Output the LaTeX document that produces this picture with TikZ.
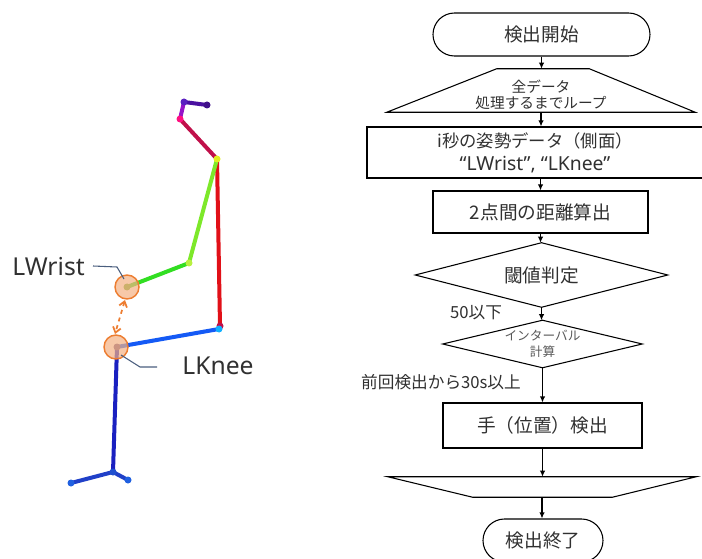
\documentclass[tikz,border=0pt]{standalone}
\usepackage{fontspec}
\setmainfont{Noto Sans CJK JP}
\newfontfamily\latinfont{Noto Sans}
\usetikzlibrary{arrows.meta,shapes.geometric,shapes.misc,calc}

\newdimen\pxu \pxu=0.75pt

\definecolor{txt}{HTML}{303030}
\definecolor{leader}{HTML}{4A5E7E}
\definecolor{peach}{HTML}{F4B183}
\definecolor{orangeline}{HTML}{ED7D31}

\tikzset{
  flow/.style={draw=black, line width=0.8pt, text=txt, inner sep=0pt, align=center},
  term/.style={flow, rounded rectangle, font=\fontsize{14pt}{17pt}\selectfont},
  proc/.style={flow, rectangle, font=\fontsize{14pt}{17pt}\selectfont},
  frame/.style={inner sep=0pt, text=txt, align=center, font=\fontsize{14pt}{17pt}\selectfont},
  outline/.style={draw=black, line width=0.8pt},
  edge/.style={draw=black, line width=0.8pt, -{Latex[length=4.5pt,width=4pt]}},
  bone/.style={line width=3pt, line cap=round},
  joint/.style={circle, inner sep=0pt, minimum size=7\pxu},
  hotspot/.style={circle, draw=orangeline, line width=1.1pt, fill=peach, fill opacity=0.7, minimum size=24\pxu, inner sep=0pt},
  bodylabel/.style={font=\latinfont\fontsize{18.5pt}{22pt}\selectfont, text=txt, inner sep=0pt},
  note/.style={text=txt, inner sep=0pt, font=\fontsize{12.5pt}{15pt}\selectfont}
}

\begin{document}
\begin{tikzpicture}[x=0.75pt, y=-0.75pt]
\useasboundingbox (0,0) rectangle (702,559);

% ---------- skeleton ----------
\coordinate (hA) at (184,102);
\coordinate (hB) at (207,105);
\coordinate (nose) at (180,119);
\coordinate (neck) at (217,159);
\coordinate (elbow) at (189,263);
\coordinate (wrist) at (127,287);
\coordinate (hip) at (220,326);
\coordinate (hipB) at (219,329);
\coordinate (knee) at (117,347);
\coordinate (ankle) at (113,472);
\coordinate (toeL) at (71,483);
\coordinate (toeR) at (128,480);

\draw[bone, color={rgb,255:red,74;green,16;blue,160}] (hA) -- (hB);
\draw[bone, color={rgb,255:red,150;green,20;blue,200}] (hA) -- (nose);
\draw[bone, color={rgb,255:red,192;green,16;blue,74}] (nose) -- (neck);
\draw[bone, color={rgb,255:red,225;green,16;blue,24}] (neck) -- (hip);
\draw[bone, color={rgb,255:red,125;green,232;blue,42}] (neck) -- (elbow);
\draw[bone, color={rgb,255:red,50;green,222;blue,34}] (elbow) -- (wrist);
\draw[bone, color={rgb,255:red,20;green,90;blue,245}] (hipB) -- (knee);
\draw[bone, color={rgb,255:red,26;green,32;blue,192}] (knee) -- (ankle);
\draw[bone, color={rgb,255:red,32;green,64;blue,200}] (ankle) -- (toeL);
\draw[bone, color={rgb,255:red,32;green,64;blue,200}] (ankle) -- (toeR);

\node[joint, fill={rgb,255:red,90;green,32;blue,192}] (jhA) at (hA) {};
\node[joint, fill={rgb,255:red,64;green,16;blue,138}] (jhB) at (hB) {};
\node[joint, fill={rgb,255:red,255;green,16;blue,128}] (jnose) at (nose) {};
\node[joint, fill={rgb,255:red,224;green,240;blue,32}] (jneck) at (neck) {};
\node[joint, fill={rgb,255:red,184;green,240;blue,64}] (jelbow) at (elbow) {};
\node[joint, fill={rgb,255:red,112;green,176;blue,48}] (jwrist) at (wrist) {};
\node[joint, fill={rgb,255:red,192;green,16;blue,74}] (jhip) at (hip) {};
\node[joint, fill={rgb,255:red,16;green,176;blue,255}] (jhipB) at (hipB) {};
\node[joint, fill={rgb,255:red,112;green,80;blue,128}] (jknee) at (knee) {};
\node[joint, fill={rgb,255:red,32;green,80;blue,208}] (jankle) at (ankle) {};
\node[joint, fill={rgb,255:red,32;green,96;blue,224}] (jtoeL) at (toeL) {};
\node[joint, fill={rgb,255:red,32;green,96;blue,224}] (jtoeR) at (toeR) {};

% highlighted key points
\node[hotspot] (cw) at (127,287) {};
\node[hotspot] (ck) at (116,347) {};
\coordinate (dw) at (125,300);
\coordinate (dk) at (115,334);
\draw[orangeline, line width=1.3pt, dashed, {Straight Barb[length=4pt,width=6pt]}-{Straight Barb[length=4pt,width=6pt]}] (dw) -- (dk);

% labels with leader lines
\node[bodylabel] (lw) at (48.5,267) {LWrist};
\node[bodylabel] (lk) at (218,366) {LKnee};
\coordinate (lwA) at (93,266);
\coordinate (lwB) at (117,267);
\coordinate (lwC) at (124,279);
\draw[leader, line width=0.8pt] (lwA) -- (lwB) -- (lwC);
\coordinate (lkA) at (121,355);
\coordinate (lkB) at (140,367);
\coordinate (lkC) at (157,367);
\draw[leader, line width=0.8pt] (lkA) -- (lkB) -- (lkC);

% ---------- flowchart ----------
\node[term, minimum width=217\pxu, minimum height=43\pxu] (start) at (541.5,34.5) {検出開始};

% loop start (trapezoid)
\node[frame, minimum width=308\pxu, minimum height=43\pxu] (loopA) at (541,90.5) {};
\draw[outline] (loopA.south west) -- (loopA.south east) -- ($(loopA.north east)+(-106,0)$) -- ($(loopA.north west)+(110,0)$) -- cycle;
\node[frame, font=\fontsize{11pt}{12.5pt}\selectfont] (loopAtxt) at (541,95) {全データ\\処理するまでループ};

\node[proc, minimum width=336\pxu, minimum height=51\pxu, font=\fontsize{13pt}{17.5pt}\selectfont] (data) at (535,152.5) {i秒の姿勢データ（側面）\\{\latinfont\fontsize{14.5pt}{17.5pt}\selectfont “LWrist”, “LKnee”}};

\node[proc, minimum width=215\pxu, minimum height=42\pxu] (dist) at (540.5,212) {2点間の距離算出};

% decisions (diamonds)
\node[frame, minimum width=252\pxu, minimum height=64\pxu] (thr) at (541.5,275) {閾値判定};
\draw[outline] (thr.north) -- (thr.east) -- (thr.south) -- (thr.west) -- cycle;

\node[frame, minimum width=199\pxu, minimum height=47\pxu, font=\fontsize{9.5pt}{12pt}\selectfont, text=black!65] (intv) at (542.5,344) {インターバル\\計算};
\draw[outline] (intv.north) -- (intv.east) -- (intv.south) -- (intv.west) -- cycle;

\node[proc, minimum width=199\pxu, minimum height=45\pxu] (hand) at (542.5,425.5) {手（位置）検出};

% loop end (trapezoid)
\node[frame, minimum width=308\pxu, minimum height=20\pxu] (loopB) at (542,487) {};
\draw[outline] (loopB.north west) -- (loopB.north east) -- ($(loopB.south east)+(-84,0)$) -- ($(loopB.south west)+(85,0)$) -- cycle;

\node[term, minimum width=120\pxu, minimum height=43\pxu] (stop) at (543,540.5) {検出終了};

% connectors
\draw[edge] (start.south) -- (start.south |- loopA.north);
\draw[edge] (loopA.south) -- (loopA.south |- data.north);
\draw[edge] (dist.north |- data.south) -- (dist.north);
\draw[edge] (dist.south) -- (dist.south |- thr.north);
\draw[edge] (thr.south) -- (thr.south |- intv.north);
\draw[edge] (intv.south) -- (intv.south |- hand.north);
\draw[edge] (hand.south) -- (hand.south |- loopB.north);
\draw[edge] (loopB.south) -- (loopB.south |- stop.north);

% branch conditions
\node[note] (cond1) at (476,313) {50以下};
\node[note] (cond2) at (441,382) {前回検出から30s以上};

\end{tikzpicture}
\end{document}
